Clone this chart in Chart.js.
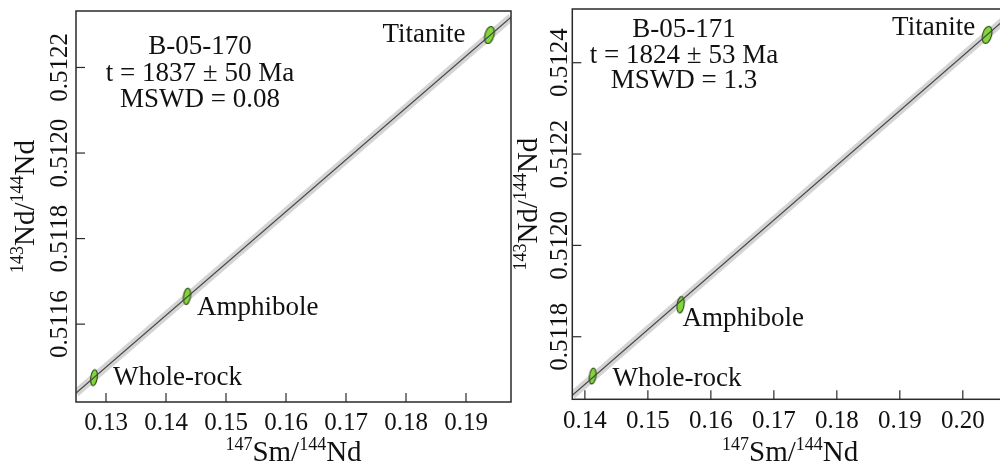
<!DOCTYPE html>
<html>
<head>
<meta charset="utf-8">
<title>Sm-Nd isochrons</title>
<script src="https://cdn.jsdelivr.net/npm/chart.js@4.4.1/dist/chart.umd.min.js"></script>
<style>
  html, body { margin: 0; padding: 0; background: #fff; overflow: hidden; }
  #wrap { position: relative; width: 1000px; height: 467px; overflow: hidden; }
  .panel { position: absolute; top: 0; }
</style>
</head>
<body>
<div id="wrap">
  <div class="panel" style="left:0"><canvas id="chartA" width="520" height="467"></canvas></div>
  <div class="panel" style="left:500px"><canvas id="chartB" width="520" height="467"></canvas></div>
</div>
<script>
// Sample B-05-170
const phasesA = ['Whole-rock', 'Amphibole', 'Titanite'];
const smNdA = [0.1280, 0.1435, 0.1939];
const ndNdA = [0.511475, 0.511665, 0.512276];
const isoSmA = [0.125, 0.1975];
const isoNdA = [0.511439, 0.5123175];
const xRangeA = [0.125, 0.1975];
const yRangeA = [0.511418, 0.512332];
const xTicksA = [0.13, 0.14, 0.15, 0.16, 0.17, 0.18, 0.19];
const yTicksA = [0.5116, 0.5118, 0.5120, 0.5122];
const noteA = ['B-05-170', 't = 1837 \u00b1 50 Ma', 'MSWD = 0.08'];

// Sample B-05-171
const phasesB = ['Whole-rock', 'Amphibole', 'Titanite'];
const smNdB = [0.14122, 0.15519, 0.20386];
const ndNdB = [0.511714, 0.511870, 0.512461];
const isoSmB = [0.138, 0.2067];
const isoNdB = [0.511672, 0.512495];
const xRangeB = [0.138, 0.2067];
const yRangeB = [0.511663, 0.5125176];
const xTicksB = [0.14, 0.15, 0.16, 0.17, 0.18, 0.19, 0.20];
const yTicksB = [0.5118, 0.5120, 0.5122, 0.5124];
const noteB = ['B-05-171', 't = 1824 \u00b1 53 Ma', 'MSWD = 1.3'];

// axis titles: [text, superscript?]
const xTitle = [['147', true], ['Sm/', false], ['144', true], ['Nd', false]];
const yTitle = [['143', true], ['Nd/', false], ['144', true], ['Nd', false]];

const SERIF = '"Liberation Serif", "Times New Roman", serif';
const INK = '#111';

// green error ellipse used as a point marker
function makeEllipse(w, h, tilt) {
  const c = document.createElement('canvas');
  const s = Math.ceil(Math.max(w, h)) + 4;
  c.width = s; c.height = s;
  const g = c.getContext('2d');
  g.translate(s / 2, s / 2);
  g.rotate(tilt * Math.PI / 180);
  g.beginPath();
  g.ellipse(0, 0, w / 2, h / 2, 0, 0, Math.PI * 2);
  g.fillStyle = '#82d63c';
  g.fill();
  g.lineWidth = 1.1;
  g.strokeStyle = '#2a4414';
  g.stroke();
  return c;
}

function drawSup(ctx, parts, x, y, rotated) {
  const main = '29px ' + SERIF, sup = '18px ' + SERIF;
  ctx.save();
  ctx.translate(x, y);
  if (rotated) ctx.rotate(-Math.PI / 2);
  ctx.textAlign = 'left';
  ctx.textBaseline = 'alphabetic';
  let total = 0;
  parts.forEach(p => { ctx.font = p[1] ? sup : main; total += ctx.measureText(p[0]).width; });
  let cx = -total / 2;
  parts.forEach(p => {
    ctx.font = p[1] ? sup : main;
    ctx.fillText(p[0], cx, p[1] ? -11 : 0);
    cx += ctx.measureText(p[0]).width;
  });
  ctx.restore();
}

// frame, inward ticks, tick labels, titles, phase labels and the age note
const decorPlugin = {
  id: 'decor',
  afterDraw(chart) {
    const o = chart.options.plugins.decor;
    const { ctx, chartArea: a } = chart;
    const xs = chart.scales.x, ys = chart.scales.y;
    ctx.save();
    ctx.strokeStyle = '#2a2a2a';
    ctx.lineWidth = 1.5;
    ctx.strokeRect(a.left, a.top, a.right - a.left, a.bottom - a.top);

    ctx.lineWidth = 1.2;
    ctx.fillStyle = INK;
    ctx.font = '25px ' + SERIF;
    ctx.textAlign = 'center';
    ctx.textBaseline = 'alphabetic';
    o.xTicks.forEach(v => {
      const px = xs.getPixelForValue(v);
      ctx.beginPath();
      ctx.moveTo(px, a.bottom);
      ctx.lineTo(px, a.bottom - 9);
      ctx.stroke();
      ctx.fillText(v.toFixed(2), px, o.xTickBase);
    });
    o.yTicks.forEach(v => {
      const py = ys.getPixelForValue(v);
      ctx.beginPath();
      ctx.moveTo(a.left, py);
      ctx.lineTo(a.left + 9, py);
      ctx.stroke();
      ctx.save();
      ctx.translate(o.yTickBase, py);
      ctx.rotate(-Math.PI / 2);
      ctx.fillText(v.toFixed(4), 0, 0);
      ctx.restore();
    });

    drawSup(ctx, xTitle, (a.left + a.right) / 2 + o.xTitleShift, o.xTitleBase, false);
    drawSup(ctx, yTitle, o.yTitleBase, (a.top + a.bottom) / 2, true);

    ctx.font = '27px ' + SERIF;
    ctx.textBaseline = 'middle';
    o.phases.forEach((name, i) => {
      const off = o.labelOffsets[i];
      ctx.textAlign = off[2];
      ctx.fillText(name, xs.getPixelForValue(o.sm[i]) + off[0], ys.getPixelForValue(o.nd[i]) + off[1]);
    });

    ctx.textAlign = 'center';
    o.note.forEach((line, i) => {
      ctx.fillText(line, o.notePos[0], o.notePos[1] + i * o.notePos[2]);
    });
    ctx.restore();
  }
};

function buildPanel(id, p) {
  const pts = p.sm.map((x, i) => ({ x: x, y: p.nd[i] }));
  const iso = p.isoX.map((x, i) => ({ x: x, y: p.isoY[i] }));
  return new Chart(document.getElementById(id), {
    type: 'scatter',
    data: {
      datasets: [
        { data: iso, showLine: true, borderColor: '#474747', borderWidth: 1.2, pointRadius: 0, clip: 0, order: 0 },
        { data: pts, pointStyle: p.ellipses, pointRadius: 8, order: 1 },
        { data: iso, showLine: true, borderColor: 'rgba(204,204,204,0.85)', borderWidth: 8, borderCapStyle: 'butt', pointRadius: 0, clip: 0, order: 2 }
      ]
    },
    options: {
      responsive: false,
      animation: false,
      events: [],
      layout: { padding: p.padding },
      scales: {
        x: { type: 'linear', min: p.xRange[0], max: p.xRange[1], display: false },
        y: { type: 'linear', min: p.yRange[0], max: p.yRange[1], display: false }
      },
      plugins: {
        legend: { display: false },
        tooltip: { enabled: false },
        decor: {
          xTicks: p.xTicks, yTicks: p.yTicks,
          xTickBase: p.xTickBase, yTickBase: p.yTickBase,
          xTitleBase: 461, xTitleShift: p.xTitleShift, yTitleBase: p.yTitleBase,
          phases: p.phases, sm: p.sm, nd: p.nd, labelOffsets: p.labelOffsets,
          note: p.note, notePos: p.notePos
        }
      }
    },
    plugins: [decorPlugin]
  });
}

buildPanel('chartA', {
  sm: smNdA, nd: ndNdA, isoX: isoSmA, isoY: isoNdA, xRange: xRangeA, yRange: yRangeA,
  xTicks: xTicksA, yTicks: yTicksA, phases: phasesA, note: noteA,
  padding: { left: 76, top: 11, right: 9, bottom: 65 },
  ellipses: [makeEllipse(6.5, 16, 8), makeEllipse(7, 16.5, 8), makeEllipse(9, 17.5, 15)],
  xTickBase: 430, yTickBase: 67, xTitleShift: 0, yTitleBase: 34,
  labelOffsets: [[19, 0, 'left'], [10, 12, 'left'], [-24, 0, 'right']],
  notePos: [200, 47, 26.5]
});

buildPanel('chartB', {
  sm: smNdB, nd: ndNdB, isoX: isoSmB, isoY: isoNdB, xRange: xRangeB, yRange: yRangeB,
  xTicks: xTicksB, yTicks: yTicksB, phases: phasesB, note: noteB,
  padding: { left: 72.3, top: 9, right: 15, bottom: 67.7 },
  ellipses: [makeEllipse(6.5, 16, 8), makeEllipse(7, 16.5, 8), makeEllipse(9, 17.5, 15)],
  xTickBase: 428, yTickBase: 67, xTitleShift: 1.5, yTitleBase: 37,
  labelOffsets: [[20, 3, 'left'], [2, 14, 'left'], [-12, -7, 'right']],
  notePos: [184, 30, 25.5]
});
</script>
</body>
</html>
